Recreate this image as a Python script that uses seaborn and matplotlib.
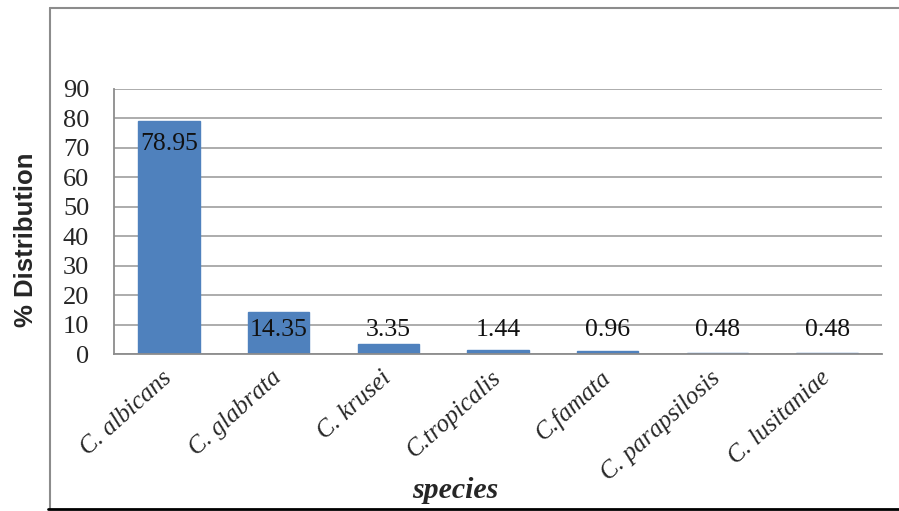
import matplotlib
matplotlib.use("Agg")
import matplotlib.pyplot as plt
import seaborn as sns
import pandas as pd
from matplotlib.lines import Line2D

species = ['C. albicans', 'C. glabrata', 'C. krusei', 'C.tropicalis', 'C.famata',
           'C. parapsilosis', 'C. lusitaniae']
distribution = [78.95, 14.35, 3.35, 1.44, 0.96, 0.48, 0.48]
value_labels = ['78.95', '14.35', '3.35', '1.44', '0.96', '0.48', '0.48']

df = pd.DataFrame({'species': species, 'dist': distribution})

sns.set_style('white')
serif = ['Liberation Serif', 'DejaVu Serif']
sans = ['Liberation Sans', 'DejaVu Sans']

fig = plt.figure(figsize=(8.99, 5.11), dpi=100)
ax = fig.add_axes([0.127, 0.307, 0.854, 0.519])

sns.barplot(data=df, x='species', y='dist', color='#4F81BD', saturation=1,
            width=0.56, edgecolor='#4F81BD', linewidth=1.0, ax=ax)

ax.set_ylim(0, 90)
ax.set_xlim(-0.5, 6.5)
ax.set_yticks(range(0, 91, 10))
ax.yaxis.grid(True, color='#a6a6a6', linewidth=1.3)
ax.set_axisbelow(True)
for s in ['top', 'right']:
    ax.spines[s].set_visible(False)
ax.spines['left'].set_color('#8c8c8c')
ax.spines['bottom'].set_color('#8c8c8c')
ax.spines['left'].set_linewidth(1.3)
ax.spines['bottom'].set_linewidth(1.3)
ax.tick_params(axis='both', length=0)

for lab in ax.get_yticklabels():
    lab.set_fontfamily(serif)
    lab.set_fontsize(19)
ax.tick_params(axis='y', pad=18)

ax.set_xticks(range(len(species)))
ax.set_xticklabels(species, rotation=42, ha='right', va='center',
                   rotation_mode='anchor', fontstyle='italic',
                   fontfamily=serif, fontsize=18)
ax.tick_params(axis='x', pad=15)

# value labels, inside the top for tall bars, above for short ones
for i, (v, t) in enumerate(zip(distribution, value_labels)):
    ax.text(i, max(v, 16) - 7.8, t, ha='center', va='center',
            fontfamily=serif, fontsize=18.5, color='#111111')

ax.set_xlabel('')
ax.set_ylabel('')
fig.text(0.506, 0.04, 'species', ha='center', va='center', fontfamily=serif,
         fontsize=21.5, fontweight='bold', fontstyle='italic')
fig.text(0.029, 0.53, '% Distribution', ha='center', va='center', rotation=90,
         fontfamily=sans, fontsize=18.5, fontweight='bold')

# outer chart frame
fig.add_artist(Line2D([0.0556, 0.0556], [0.003, 0.985], color='#8c8c8c', lw=1.5))
fig.add_artist(Line2D([0.0556, 1.0], [0.985, 0.985], color='#8c8c8c', lw=1.5))
fig.add_artist(Line2D([0.053, 1.0], [0.004, 0.004], color='black', lw=2))

fig.savefig('out.png', dpi=100, facecolor='white')
